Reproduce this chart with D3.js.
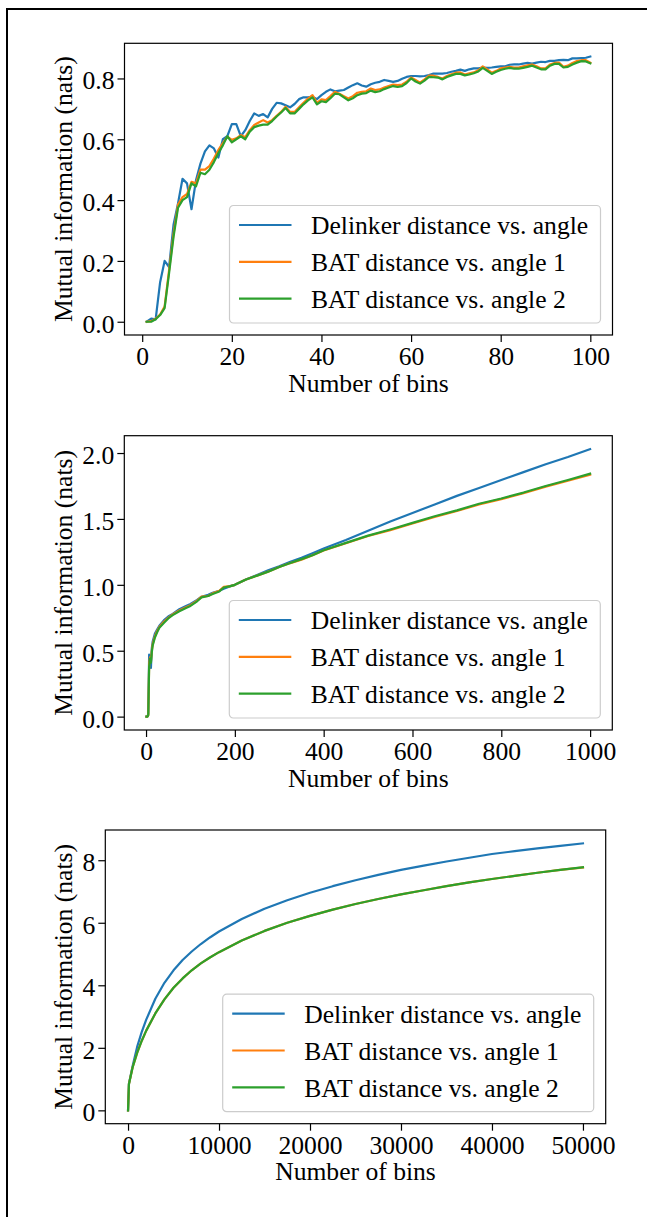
<!DOCTYPE html>
<html>
<head>
<meta charset="utf-8">
<script src="https://cdn.jsdelivr.net/npm/d3@7"></script>
<style>
  body { margin: 0; background: #fff; }
  svg { display: block; }
  text { font-family: "Liberation Serif", "Times New Roman", serif; fill: #000; }
</style>
</head>
<body>
<div id="chart"></div>
<script>
// series names and colours (matplotlib tab10)
const seriesNames = ["Delinker distance vs. angle", "BAT distance vs. angle 1", "BAT distance vs. angle 2"];
const seriesColors = ["#1f77b4", "#ff7f0e", "#2ca02c"];

// panel 1: 1..100 bins
const binsA = d3.range(1, 101);
const delinkerA = [0.0,0.01,0.008,0.13,0.2,0.18,0.32,0.39,0.47,0.455,0.37,0.465,0.52,0.56,0.58,0.57,0.54,0.6,0.61,0.65,
  0.65,0.61,0.63,0.66,0.685,0.677,0.683,0.672,0.7,0.72,0.718,0.712,0.705,0.716,0.732,0.738,0.738,0.74,0.732,0.745,
  0.756,0.764,0.758,0.76,0.762,0.77,0.778,0.784,0.777,0.773,0.781,0.786,0.789,0.795,0.792,0.789,0.792,0.799,0.805,0.808,
  0.808,0.807,0.808,0.811,0.816,0.816,0.816,0.818,0.822,0.825,0.829,0.825,0.83,0.833,0.833,0.836,0.835,0.836,0.838,0.84,
  0.84,0.845,0.846,0.846,0.849,0.851,0.849,0.852,0.855,0.854,0.858,0.858,0.86,0.861,0.86,0.866,0.866,0.867,0.868,0.872];
const bat1A = [0.0,0.002,0.01,0.024,0.05,0.17,0.29,0.385,0.41,0.42,0.46,0.455,0.5,0.5,0.512,0.537,0.565,0.587,0.609,0.598,
  0.603,0.614,0.607,0.63,0.647,0.655,0.663,0.655,0.663,0.677,0.69,0.707,0.69,0.69,0.705,0.72,0.734,0.745,0.72,0.731,
  0.729,0.742,0.756,0.75,0.742,0.734,0.742,0.753,0.756,0.758,0.767,0.762,0.764,0.77,0.775,0.78,0.778,0.78,0.789,0.803,
  0.795,0.786,0.797,0.809,0.809,0.805,0.8,0.808,0.814,0.819,0.82,0.813,0.817,0.82,0.827,0.84,0.83,0.819,0.825,0.833,
  0.836,0.838,0.836,0.836,0.84,0.843,0.846,0.84,0.833,0.833,0.846,0.851,0.852,0.838,0.842,0.851,0.857,0.86,0.86,0.852];
const bat2A = [0.0,0.0,0.008,0.022,0.045,0.16,0.28,0.375,0.4,0.41,0.455,0.445,0.49,0.485,0.5,0.525,0.555,0.58,0.61,0.59,
  0.6,0.61,0.6,0.625,0.64,0.645,0.648,0.648,0.66,0.675,0.688,0.703,0.685,0.685,0.7,0.715,0.728,0.738,0.715,0.725,
  0.722,0.735,0.75,0.748,0.738,0.728,0.735,0.745,0.75,0.752,0.76,0.755,0.758,0.765,0.77,0.775,0.772,0.775,0.785,0.8,
  0.79,0.783,0.793,0.805,0.804,0.803,0.797,0.805,0.81,0.815,0.815,0.81,0.813,0.817,0.823,0.835,0.825,0.815,0.822,0.828,
  0.832,0.835,0.832,0.832,0.835,0.838,0.842,0.836,0.83,0.83,0.842,0.848,0.848,0.836,0.838,0.846,0.852,0.857,0.856,0.85];

// panel 2: up to 1000 bins
const binsB = [1,3,5,7,9,11,13,15,20,25,30,40,50,60,75,90,100,115,125,140,150,165,175,190,200,
  225,250,275,300,325,350,375,400,450,500,550,600,650,700,750,800,850,900,950,1000];
const delinkerB = [0.0,0.0,0.02,0.47,0.45,0.37,0.52,0.57,0.63,0.66,0.69,0.73,0.76,0.78,0.815,0.84,0.855,0.885,0.91,0.925,0.94,0.955,0.97,0.99,1.0,
  1.04,1.075,1.11,1.14,1.175,1.205,1.24,1.275,1.34,1.41,1.48,1.545,1.61,1.675,1.735,1.795,1.855,1.915,1.97,2.03];
const bat1B = [0.0,0.0,0.01,0.4,0.45,0.42,0.5,0.55,0.61,0.65,0.68,0.72,0.75,0.775,0.805,0.83,0.845,0.88,0.91,0.915,0.935,0.955,0.985,0.99,1.0,
  1.04,1.07,1.1,1.135,1.165,1.19,1.225,1.26,1.315,1.37,1.415,1.465,1.515,1.56,1.61,1.65,1.695,1.745,1.79,1.835];
const bat2B = [0.0,0.0,0.01,0.38,0.44,0.41,0.49,0.54,0.6,0.64,0.675,0.71,0.745,0.77,0.8,0.825,0.84,0.875,0.905,0.915,0.93,0.95,0.98,0.99,1.0,
  1.04,1.07,1.1,1.135,1.165,1.195,1.225,1.262,1.318,1.373,1.42,1.47,1.52,1.565,1.615,1.655,1.70,1.75,1.795,1.843];

// panel 3: up to 50000 bins
const binsC = [1,100,500,1000,1500,2000,3000,4000,5000,6000,7000,8000,9000,10000,12500,15000,17500,20000,
  22500,25000,27500,30000,32500,35000,37500,40000,42500,45000,47500,50000];
const delinkerC = [0.0,0.855,1.41,2.03,2.5,2.9,3.57,4.08,4.48,4.81,5.08,5.32,5.53,5.72,6.12,6.45,6.72,6.96,
  7.17,7.36,7.53,7.69,7.83,7.96,8.08,8.2,8.29,8.38,8.46,8.54];
const bat1C = [0.0,0.845,1.37,1.835,2.22,2.55,3.1,3.55,3.92,4.22,4.48,4.7,4.89,5.06,5.43,5.74,6.0,6.22,
  6.42,6.6,6.76,6.91,7.04,7.17,7.29,7.4,7.5,7.6,7.69,7.77];
const bat2C = [0.0,0.84,1.37,1.84,2.22,2.55,3.1,3.55,3.92,4.22,4.48,4.7,4.89,5.06,5.43,5.74,6.0,6.22,
  6.42,6.6,6.76,6.91,7.04,7.17,7.29,7.4,7.5,7.6,7.69,7.775];

// tick labels
const xTicksA = [0, 20, 40, 60, 80, 100];
const yTicksA = ["0.0", "0.2", "0.4", "0.6", "0.8"];
const xTicksB = [0, 200, 400, 600, 800, 1000];
const yTicksB = ["0.0", "0.5", "1.0", "1.5", "2.0"];
const xTicksC = [0, 10000, 20000, 30000, 40000, 50000];
const yTicksC = ["0", "2", "4", "6", "8"];

const width = 647, height = 1217;
const fontSize = 25.6;

const panels = [
  {box: {left: 124.5, right: 612.5, top: 43.3, bottom: 335}, x: binsA, ys: [delinkerA, bat1A, bat2A], xTicks: xTicksA, yTicks: yTicksA},
  {box: {left: 124.3, right: 612.3, top: 435.7, bottom: 730}, x: binsB, ys: [delinkerB, bat1B, bat2B], xTicks: xTicksB, yTicks: yTicksB},
  {box: {left: 105.3, right: 605.7, top: 830, bottom: 1123.7}, x: binsC, ys: [delinkerC, bat1C, bat2C], xTicks: xTicksC, yTicks: yTicksC}
];

const svg = d3.select("#chart")
  .append("svg")
    .attr("width", width)
    .attr("height", height);

svg.append("rect").attr("width", width).attr("height", height).attr("fill", "#fff");

// outer frame (only top and left edges are visible)
svg.append("path")
  .attr("d", `M7,${height} L7,9 L${width},9`)
  .attr("fill", "none")
  .attr("stroke", "#000")
  .attr("stroke-width", 2);

// pad a domain by 5% like matplotlib
function padded(extent) {
  const m = (extent[1] - extent[0]) * 0.05;
  return [extent[0] - m, extent[1] + m];
}

panels.forEach(p => {
  const b = p.box;
  const allY = p.ys.flat();
  const x = d3.scaleLinear().domain(padded(d3.extent(p.x))).range([b.left, b.right]);
  const y = d3.scaleLinear().domain(padded(d3.extent(allY))).range([b.bottom, b.top]);

  const g = svg.append("g");

  // X axis
  const xAxis = g.append("g")
    .attr("transform", `translate(0,${b.bottom})`)
    .call(d3.axisBottom(x).tickValues(p.xTicks).tickSize(7).tickSizeOuter(0).tickFormat(d3.format("d")));
  xAxis.select(".domain").remove();
  xAxis.selectAll("line").attr("stroke", "#000").attr("stroke-width", 1.2);
  xAxis.selectAll("text")
    .attr("dy", null)
    .attr("y", 30)
    .style("font-size", fontSize + "px")
    .style("font-family", "'Liberation Serif', 'Times New Roman', serif");

  // Y axis
  const yAxis = g.append("g")
    .attr("transform", `translate(${b.left},0)`)
    .call(d3.axisLeft(y).tickValues(p.yTicks.map(Number)).tickSize(7).tickPadding(3).tickSizeOuter(0)
      .tickFormat((d, i) => p.yTicks[i]));
  yAxis.select(".domain").remove();
  yAxis.selectAll("line").attr("stroke", "#000").attr("stroke-width", 1.2);
  yAxis.selectAll("text")
    .attr("dy", null)
    .attr("y", 10.5)
    .style("font-size", fontSize + "px")
    .style("font-family", "'Liberation Serif', 'Times New Roman', serif");

  // lines
  const line = d3.line().x((d, i) => x(p.x[i])).y(d => y(d));
  p.ys.forEach((vals, k) => {
    g.append("path")
      .datum(vals)
      .attr("d", line)
      .attr("fill", "none")
      .attr("stroke", seriesColors[k])
      .attr("stroke-width", 2.2)
      .attr("stroke-linejoin", "round")
      .attr("stroke-linecap", "square");
  });

  // spines
  g.append("rect")
    .attr("x", b.left).attr("y", b.top)
    .attr("width", b.right - b.left).attr("height", b.bottom - b.top)
    .attr("fill", "none")
    .attr("stroke", "#000")
    .attr("stroke-width", 1.2);

  // axis labels
  g.append("text")
    .attr("x", (b.left + b.right) / 2)
    .attr("y", b.bottom + 56.7)
    .attr("text-anchor", "middle")
    .style("font-size", fontSize + "px")
    .text("Number of bins");

  g.append("text")
    .attr("transform", `translate(72,${(b.top + b.bottom) / 2}) rotate(-90)`)
    .attr("text-anchor", "middle")
    .style("font-size", fontSize + "px")
    .text("Mutual information (nats)");

  // legend, lower right
  const lw = 371, lh = 117.5;
  const lx = b.right - 12 - lw, ly = b.bottom - 12 - lh;
  const legend = g.append("g").attr("transform", `translate(${lx},${ly})`);
  legend.append("rect")
    .attr("width", lw).attr("height", lh)
    .attr("rx", 4)
    .attr("fill", "#fff").attr("fill-opacity", 0.8)
    .attr("stroke", "#cccccc").attr("stroke-width", 1.2);
  seriesNames.forEach((name, k) => {
    const ry = 19.5 + k * 36.8;
    legend.append("line")
      .attr("x1", 9.5).attr("x2", 62)
      .attr("y1", ry).attr("y2", ry)
      .attr("stroke", seriesColors[k])
      .attr("stroke-width", 2.2);
    legend.append("text")
      .attr("x", 81.5).attr("y", ry + 9.3)
      .style("font-size", fontSize + "px")
      .text(name);
  });
});
</script>
</body>
</html>
